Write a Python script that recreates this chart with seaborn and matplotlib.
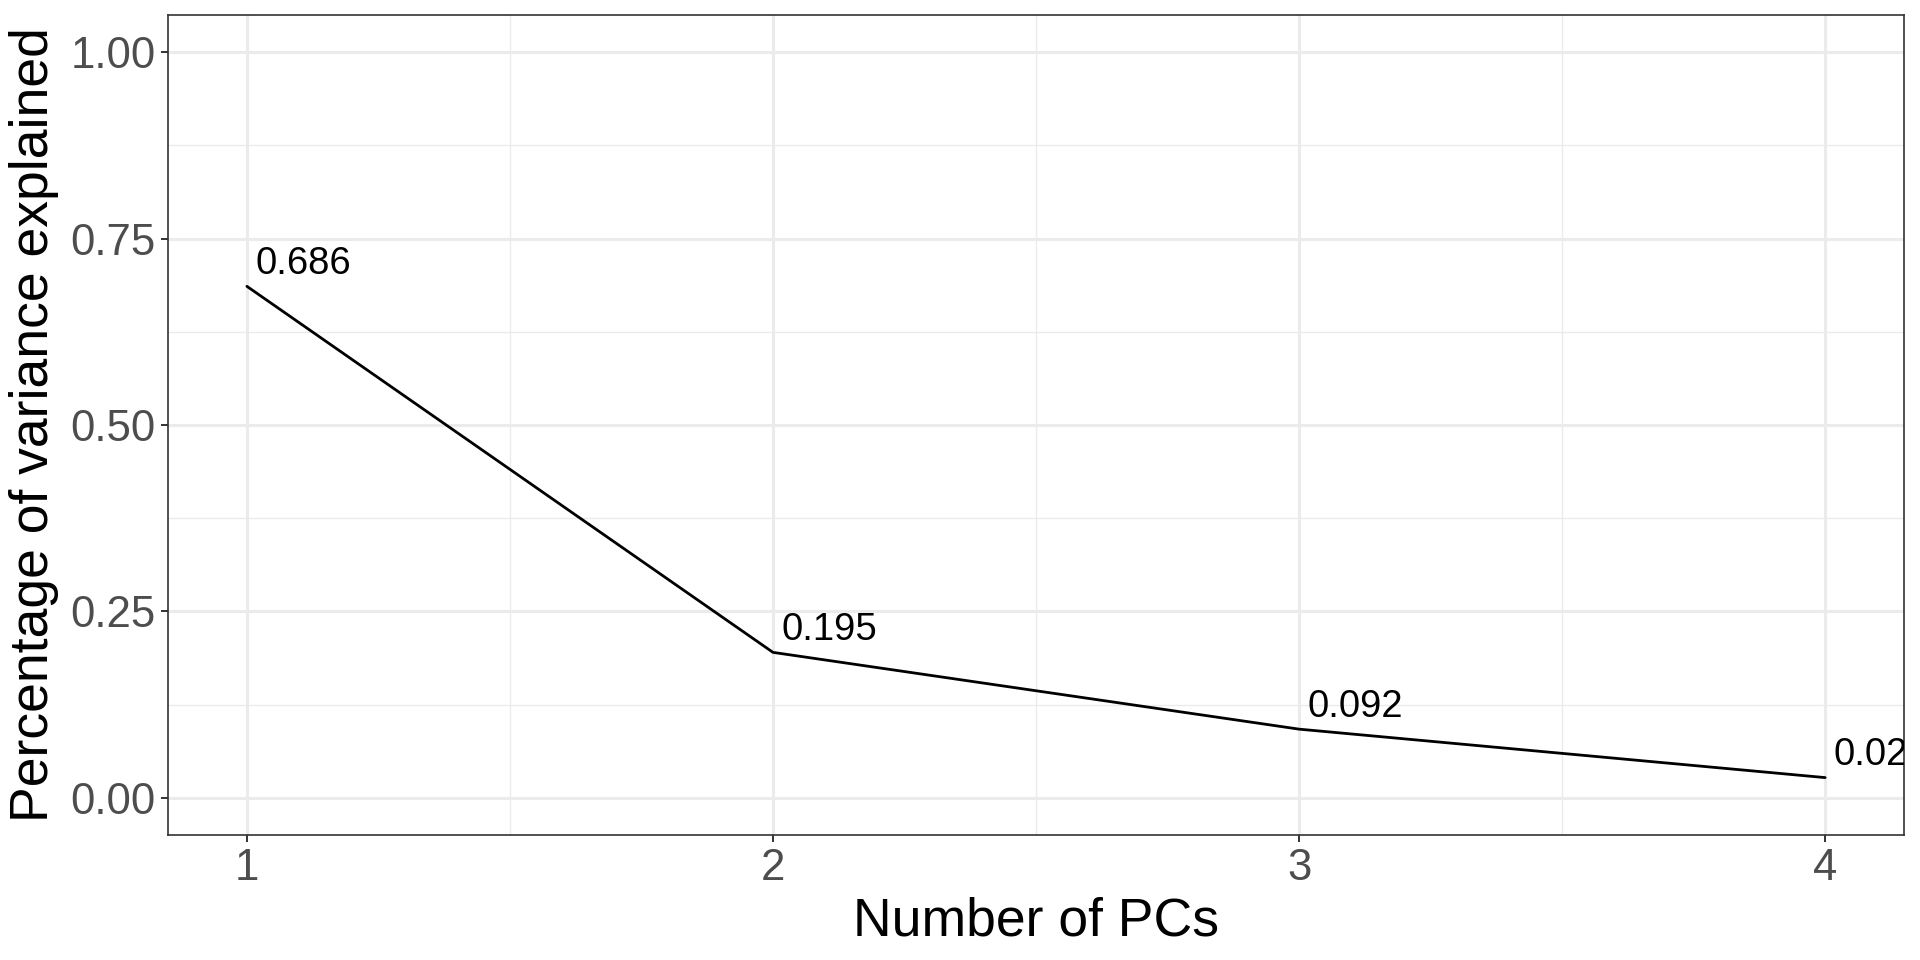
# Scree plot: percentage of variance explained per principal component
import numpy as np
import pandas as pd
import matplotlib
matplotlib.use("Agg")
import matplotlib.pyplot as plt
import seaborn as sns

# ---- data ----
n_pcs = [1, 2, 3, 4]
var_explained = [0.686, 0.195, 0.092, 0.027]
var_labels = ["0.686", "0.195", "0.092", "0.027"]
y_ticks = [0.00, 0.25, 0.50, 0.75, 1.00]
x_ticks = [1, 2, 3, 4]

df = pd.DataFrame({"pc": n_pcs, "var": var_explained})

# ---- style (ggplot theme_bw look) ----
sns.set_theme(style="white")
plt.rcParams["font.family"] = ["Liberation Sans", "DejaVu Sans"]

fig = plt.figure(figsize=(19.2, 9.6), dpi=100)
ax = fig.add_axes([0.0875, 0.1302, 0.9042, 0.8542])

# grid
for v in np.arange(-0.125, 1.1, 0.25):
    ax.axhline(v, color="#EBEBEB", lw=1.0, zorder=0)
for v in [1.5, 2.5, 3.5]:
    ax.axvline(v, color="#EBEBEB", lw=1.0, zorder=0)
for v in y_ticks:
    ax.axhline(v, color="#EBEBEB", lw=2.2, zorder=0)
for v in x_ticks:
    ax.axvline(v, color="#EBEBEB", lw=2.2, zorder=0)

sns.lineplot(data=df, x="pc", y="var", ax=ax, color="black", lw=2.0, zorder=3)

for x, y, s in zip(n_pcs, var_explained, var_labels):
    ax.annotate(s, (x, y), xytext=(6, 9), textcoords="offset points",
                ha="left", va="baseline", fontsize=27.5, color="black",
                clip_on=True, zorder=4)

ax.set_xlim(0.85, 4.15)
ax.set_ylim(-0.05, 1.05)
ax.set_xticks(x_ticks)
ax.set_xticklabels([str(v) for v in x_ticks])
ax.set_yticks(y_ticks)
ax.set_yticklabels([f"{v:.2f}" for v in y_ticks])

ax.tick_params(axis="both", which="major", labelsize=31.5, labelcolor="#4D4D4D",
               length=5, width=1.4, color="#333333", direction="out",
               bottom=True, left=True, pad=4)
for sp in ax.spines.values():
    sp.set_color("#333333")
    sp.set_linewidth(1.2)

ax.set_xlabel("Number of PCs", fontsize=38.5, color="black", labelpad=6)
ax.set_ylabel("Percentage of variance explained", fontsize=38.5, color="black", labelpad=8)

plt.savefig("out.png", dpi=100)
plt.close()
